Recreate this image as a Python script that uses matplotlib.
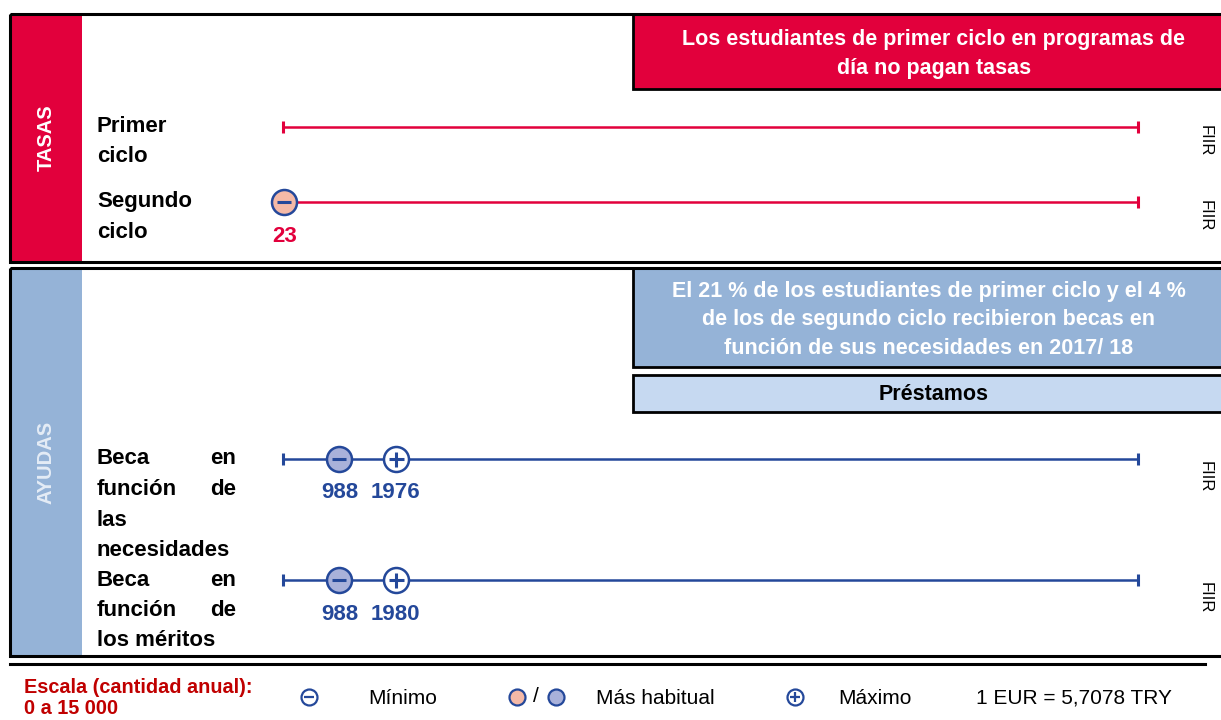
import matplotlib
matplotlib.use("Agg")
import matplotlib.pyplot as plt
from matplotlib.patches import Rectangle
from matplotlib import font_manager

# ---------------- data ----------------
scale_min = 0
scale_max = 15000
tasas_rows = ["Primer\nciclo", "Segundo\nciclo"]
tasas_min = [None, 23]
tasas_max = [None, None]
ayudas_rows = ["Beca en función de las necesidades", "Beca en función de los méritos"]
ayudas_min = [988, 988]
ayudas_max = [1976, 1980]
row_source = ["FIIR", "FIIR", "FIIR", "FIIR"]
tasas_note = "Los estudiantes de primer ciclo en programas de\ndía no pagan tasas"
ayudas_note = ("El 21 % de los estudiantes de primer ciclo y el 4 %\n"
               "de los de segundo ciclo recibieron becas en\n"
               "función de sus necesidades en 2017/ 18")
loans_label = "Préstamos"
scale_label = "Escala (cantidad anual):\n0 a 15 000"
fx_label = "1 EUR = 5,7078 TRY"

# ---------------- style ----------------
RED = "#E2003C"
DARKRED = "#C00000"
BLUE = "#24489A"
LBLUE = "#95B3D7"
PALEBLUE = "#C6D9F1"
PINK = "#F4B9A7"
BFILL = "#A9B1DA"

names = {f.name for f in font_manager.fontManager.ttflist}
NARROW = ["Liberation Sans Narrow", "Liberation Sans"] if "Liberation Sans Narrow" in names else ["Liberation Sans"]
SANS = ["Liberation Sans", "DejaVu Sans"]

fig = plt.figure(figsize=(12.21, 7.2), dpi=100)
bg = fig.add_axes([0, 0, 1, 1])
bg.set_xlim(0, 1221)
bg.set_ylim(720, 0)
bg.axis("off")

ax = fig.add_axes([283 / 1221, 0, 855 / 1221, 1])
ax.set_xlim(scale_min, scale_max)
ax.set_ylim(720, 0)
ax.axis("off")
ax.patch.set_alpha(0)

# ---------------- panels ----------------
def panel(y0, y1, color):
    bg.add_patch(Rectangle((10, y0), 72, y1 - y0, fc=color, ec="none", zorder=1))
    bg.add_patch(Rectangle((10, y0), 1240, y1 - y0, fc="none", ec="black", lw=2.2, zorder=3, clip_on=False))

panel(14, 262, RED)
panel(268, 656, LBLUE)
bg.plot([10, 1205], [664, 664], color="black", lw=2.2)

bg.text(46, 138, "TASAS", rotation=90, color="white", fontsize=14.5, fontweight="bold",
        family=SANS, ha="center", va="center")
bg.text(46, 462, "AYUDAS", rotation=90, color="#E4ECF6", fontsize=14.5, fontweight="bold",
        family=SANS, ha="center", va="center")

# note boxes
bg.add_patch(Rectangle((633, 14), 620, 75, fc=RED, ec="black", lw=2, zorder=2, clip_on=False))
bg.text(934, 54, tasas_note, color="white", fontsize=15.5, fontweight="bold", family=NARROW,
        ha="center", va="center", linespacing=1.5, zorder=4)
bg.add_patch(Rectangle((633, 268), 620, 99, fc=LBLUE, ec="black", lw=2, zorder=2, clip_on=False))
bg.text(929, 320, ayudas_note, color="white", fontsize=15.5, fontweight="bold", family=NARROW,
        ha="center", va="center", linespacing=1.5, zorder=4)
bg.add_patch(Rectangle((633, 375), 620, 37, fc=PALEBLUE, ec="black", lw=2, zorder=2, clip_on=False))
bg.text(934, 395, loans_label, color="black", fontsize=15.5, fontweight="bold", family=NARROW,
        ha="center", va="center", zorder=4)

# ---------------- rows ----------------
lab_kw = dict(color="black", fontsize=16, fontweight="bold", family=NARROW, va="center")

def scale_line(y, color):
    ax.plot([scale_min, scale_max], [y, y], color=color, lw=1.8, zorder=2,
            solid_capstyle="butt", clip_on=False)
    ax.plot([scale_min, scale_max], [y, y], ls="none", marker="|", ms=9, mew=2.2,
            color=color, zorder=2, clip_on=False)

def min_marker(x, y, fill, edge, ms=18):
    ax.plot([x], [y], marker="o", ms=ms, mfc=fill, mec=edge, mew=1.8, zorder=4, clip_on=False)
    ax.plot([x], [y], marker="_", ms=ms * 0.55, mew=2.2, color=edge, zorder=5, clip_on=False)

def max_marker(x, y, edge, ms=18):
    ax.plot([x], [y], marker="o", ms=ms, mfc="white", mec=edge, mew=1.8, zorder=4, clip_on=False)
    ax.plot([x], [y], marker="+", ms=ms * 0.6, mew=2.2, color=edge, zorder=5, clip_on=False)

num_kw = dict(fontsize=16, fontweight="bold", family=NARROW, ha="center", va="center")

tasas_y = [127, 202]
for i, (lab, y) in enumerate(zip(tasas_rows, tasas_y)):
    l1, l2 = lab.split("\n")
    bg.text(97, y, l1, ha="left", **lab_kw)
    bg.text(97, y + 30, l2, ha="left", **lab_kw)
    scale_line(y, RED)
    if tasas_min[i] is not None:
        min_marker(tasas_min[i], y, PINK, BLUE)
        ax.text(tasas_min[i], y + 35, f"{tasas_min[i]}", color=RED, **num_kw)
    if tasas_max[i] is not None:
        max_marker(tasas_max[i], y, BLUE)
    bg.text(1205, y - 2, row_source[i], rotation=270, fontsize=12, family=SANS,
            ha="center", va="top", color="black")

ayudas_y = [459, 580]
for i, (lab, y) in enumerate(zip(ayudas_rows, ayudas_y)):
    words = lab.split(" ")
    # justified 2-column layout as in the original
    bg.text(97, y, words[0], ha="left", **lab_kw)
    bg.text(236, y, words[1], ha="right", **lab_kw)
    bg.text(97, y + 30.5, words[2], ha="left", **lab_kw)
    bg.text(236, y + 30.5, words[3], ha="right", **lab_kw)
    rest = words[4:]
    if len(rest) == 2 and len(" ".join(rest)) > 12:
        bg.text(97, y + 61, rest[0], ha="left", **lab_kw)
        bg.text(97, y + 91.5, rest[1], ha="left", **lab_kw)
    else:
        bg.text(97, y + 61, " ".join(rest), ha="left", **lab_kw)
    scale_line(y, BLUE)
    min_marker(ayudas_min[i], y, BFILL, BLUE)
    max_marker(ayudas_max[i], y, BLUE)
    ax.text(ayudas_min[i], y + 34, f"{ayudas_min[i]}", color=BLUE, **num_kw)
    ax.text(ayudas_max[i], y + 34, f"{ayudas_max[i]}", color=BLUE, **num_kw)
    bg.text(1205, y + 2, row_source[2 + i], rotation=270, fontsize=12, family=SANS,
            ha="center", va="top", color="black")

# ---------------- legend ----------------
bg.text(24, 698, scale_label, color=DARKRED, fontsize=14.3, fontweight="bold", family=SANS,
        ha="left", va="center", linespacing=1.15)

def lg_circle(x, fill, sym=None):
    bg.plot([x], [697], marker="o", ms=11.5, mfc=fill, mec=BLUE, mew=1.6, zorder=4)
    if sym:
        bg.plot([x], [697], marker=sym, ms=6.5, mew=1.6, color=BLUE, zorder=5)

leg_kw = dict(fontsize=15, family=SANS, va="center", ha="left", color="black")
lg_circle(309, "white", "_")
bg.text(368, 698, "Mínimo", **leg_kw)
lg_circle(517, PINK)
bg.text(536, 697, "/", fontsize=15, family=SANS, va="center", ha="center")
lg_circle(556, BFILL)
bg.text(596, 698, "Más habitual", **leg_kw)
lg_circle(795, "white", "+")
bg.text(838, 698, "Máximo", **leg_kw)
bg.text(976, 698, fx_label, **leg_kw)

fig.savefig("out.png", dpi=100)
